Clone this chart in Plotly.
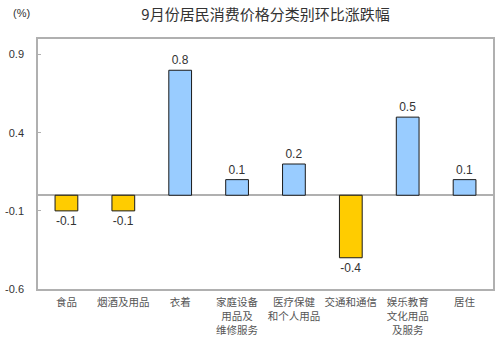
import plotly.graph_objects as go

# 9月份居民消费价格分类别环比涨跌幅 (%)
categories = ["食品", "烟酒及用品", "衣着", "家庭设备<br>用品及<br>维修服务",
              "医疗保健<br>和个人用品", "交通和通信", "娱乐教育<br>文化用品<br>及服务", "居住"]
values = [-0.1, -0.1, 0.8, 0.1, 0.2, -0.4, 0.5, 0.1]
y_ticks = [0.9, 0.4, -0.1, -0.6]

BLUE = "#99CCFF"
GOLD = "#FFCC00"
colors = [BLUE if v >= 0 else GOLD for v in values]
labels = [f"{v:.1f}" for v in values]

fig = go.Figure(go.Bar(
    x=list(range(len(categories))),
    y=values,
    width=0.4,
    marker=dict(color=colors, line=dict(color="#1a1a1a", width=1)),
    text=labels,
    textposition="outside",
    textfont=dict(family="Arial, Liberation Sans", size=12, color="#333333"),
    cliponaxis=False,
))

fig.update_layout(
    width=500, height=342,
    margin=dict(l=35, r=5, t=39, b=53),
    paper_bgcolor="white", plot_bgcolor="white",
    showlegend=False,
    title=dict(text="9月份居民消费价格分类别环比涨跌幅", x=0.5, xref="paper",
               xanchor="center", y=0.958, yanchor="middle",
               font=dict(family="Noto Sans CJK SC", size=15, color="#333333")),
    annotations=[dict(text="(%)", xref="paper", yref="paper", x=-0.06, y=1.105,
                      xanchor="left", yanchor="middle", showarrow=False,
                      font=dict(family="Arial, Liberation Sans", size=11, color="#333333"))],
)

fig.update_xaxes(
    range=[-0.5, len(categories) - 0.5],
    tickmode="array", tickvals=list(range(len(categories))), ticktext=categories,
    tickfont=dict(family="Noto Sans CJK SC", size=10.5, color="#555555"),
    showline=True, linecolor="#b0b0b0", linewidth=1.5, mirror=True,
    showgrid=False, ticks="", ticklabelstandoff=3,
)
fig.update_yaxes(
    range=[-0.6, 1.0],
    tickmode="array", tickvals=y_ticks, ticktext=[f"{t:.1f}" for t in y_ticks],
    tickfont=dict(family="Arial, Liberation Sans", size=11, color="#333333"),
    showline=True, linecolor="#b0b0b0", linewidth=1.5, mirror=True,
    showgrid=False, ticks="inside", ticklen=3, tickcolor="#b0b0b0",
    ticklabelstandoff=10,
    zeroline=True, zerolinecolor="#b0b0b0", zerolinewidth=1.5,
)

fig.write_html("out.html")
